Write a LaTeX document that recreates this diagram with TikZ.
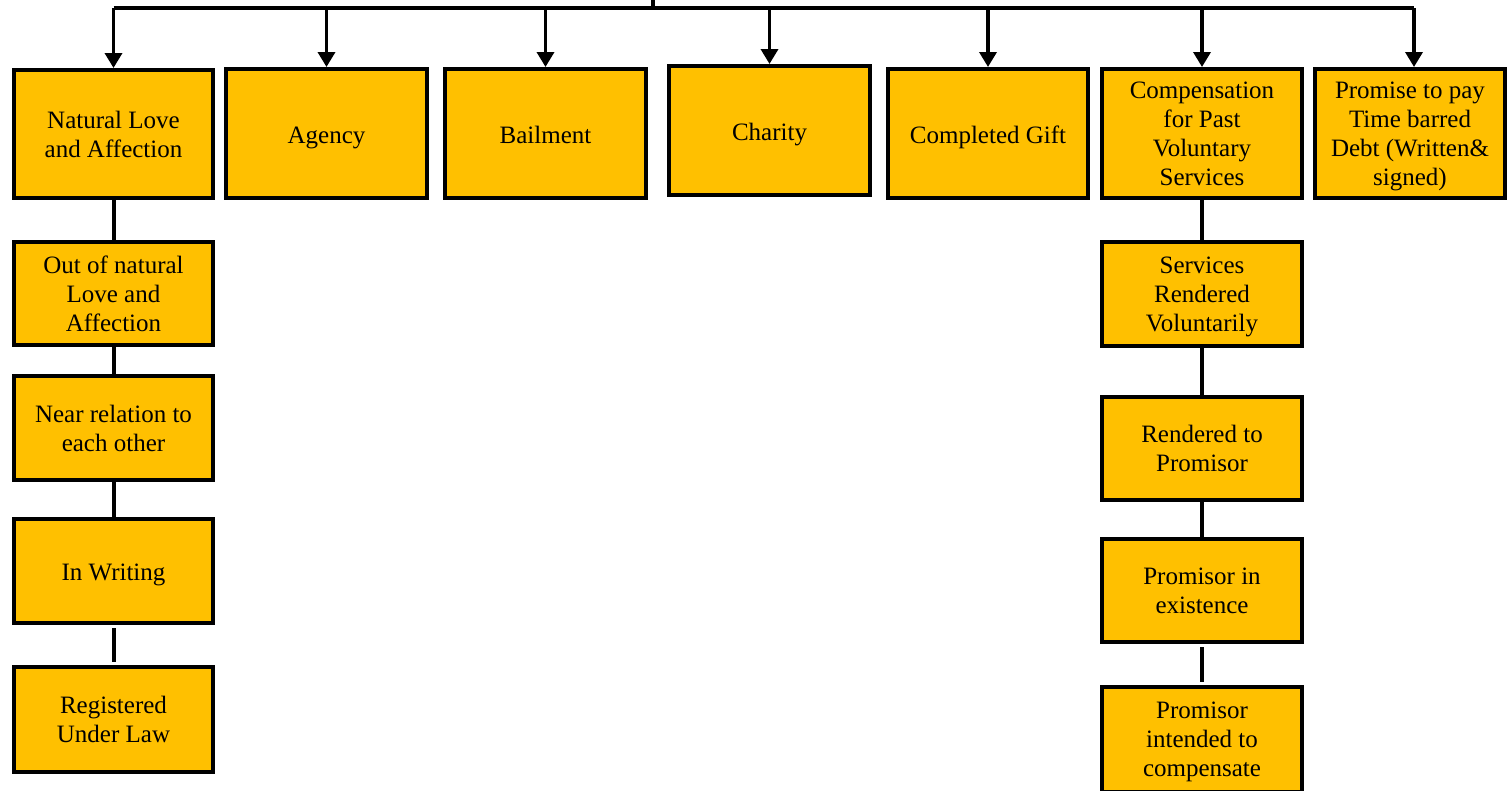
\documentclass[tikz,border=0pt]{standalone}
\usepackage{fontspec}
\setmainfont{Liberation Serif}
\usetikzlibrary{arrows.meta}
\definecolor{gold}{HTML}{FFC000}
\begin{document}
\begin{tikzpicture}[x=1pt,y=-1pt,
  box/.style={draw=black, line width=4pt, fill=gold, align=center,
    inner sep=0pt, text depth=-1.5pt, font=\fontsize{25}{29}\selectfont},
  single/.style={text height=24pt, text depth=5pt},
  link/.style={line width=4pt},
  feed/.style={line width=3.5pt, -{Triangle[width=17pt,length=15pt]}}]
\useasboundingbox (0,0) rectangle (1507,790);
\begin{scope}
\clip (0,0) rectangle (1507,790);
% top row
\node[box, minimum width=199pt, minimum height=128pt] (nla)  at (113.5,134)  {Natural Love\\and Affection};
\node[box, single, minimum width=201pt, minimum height=129pt] (agn)  at (326.5,133.5){Agency};
\node[box, single, minimum width=201pt, minimum height=129pt] (bai)  at (545.5,133.5){Bailment};
\node[box, single, minimum width=201pt, minimum height=129pt] (cha)  at (769.5,130.5){Charity};
\node[box, single, minimum width=200pt, minimum height=129pt] (gift) at (988,133.5)  {Completed Gift};
\node[box, minimum width=200pt, minimum height=129pt] (comp) at (1202,133.5) {Compensation\\for Past\\Voluntary\\Services};
\node[box, minimum width=190pt, minimum height=129pt] (debt) at (1410,133.5) {Promise to pay\\Time barred\\Debt (Written\&\\signed)};
% left column
\node[box, minimum width=199pt, minimum height=103pt] (out)  at (113.5,293.5){Out of natural\\Love and\\Affection};
\node[box, minimum width=199pt, minimum height=104pt] (near) at (113.5,428)  {Near relation to\\each other};
\node[box, single, minimum width=199pt, minimum height=104pt] (wri)  at (113.5,571)  {In Writing};
\node[box, minimum width=199pt, minimum height=105pt] (reg)  at (113.5,719.5){Registered\\Under Law};
% right column
\node[box, minimum width=200pt, minimum height=104pt] (svc)  at (1202,294)   {Services\\Rendered\\Voluntarily};
\node[box, minimum width=200pt, minimum height=103pt] (rto)  at (1202,448.5) {Rendered to\\Promisor};
\node[box, minimum width=200pt, minimum height=103pt] (pex)  at (1202,590.5) {Promisor in\\existence};
\node[box, minimum width=200pt, minimum height=105pt] (pint) at (1202,739.5) {Promisor\\intended to\\compensate};
\end{scope}
% distribution bus
\coordinate (in)  at (653,0);
\coordinate (bus) at (653,8);
\coordinate (debtin) at ([xshift=4pt]debt.north);
\draw[link, line width=3.5pt] (in) -- (bus);
\draw[link, line width=3.5pt] (nla.north |- bus) -- (debtin |- bus);
\foreach \n in {nla,agn,bai,cha,gift,comp}
  \draw[feed] (\n.north |- bus) -- (\n.north);
\draw[feed] (debtin |- bus) -- (debtin);
% chains
\draw[link] (nla) -- (out);
\draw[link] (out) -- (near);
\draw[link] (near) -- (wri);
\draw[link, shorten <=3pt, shorten >=3pt] (wri) -- (reg);
\draw[link] (comp) -- (svc);
\draw[link] (svc) -- (rto);
\draw[link] (rto) -- (pex);
\draw[link, shorten <=3pt, shorten >=3pt] (pex) -- (pint);
\end{tikzpicture}
\end{document}
